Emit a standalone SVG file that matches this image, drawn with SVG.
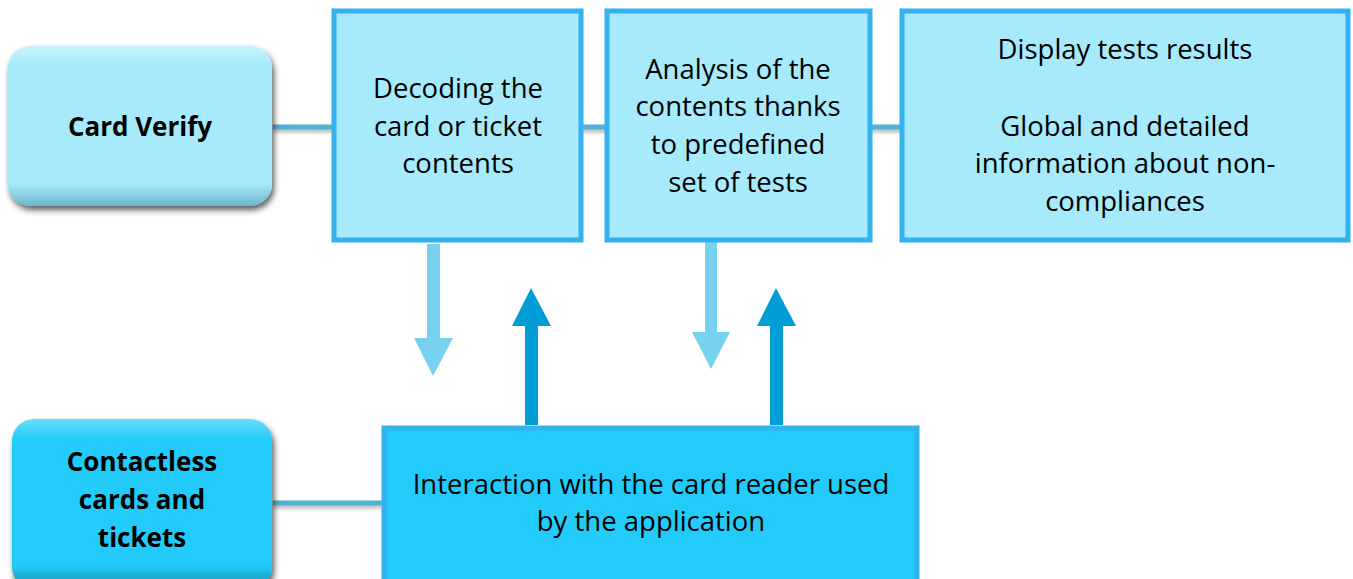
<svg xmlns="http://www.w3.org/2000/svg" width="1353" height="579" viewBox="0 0 1353 579">
<defs>
<style>
.box{fill:#a6eafc;stroke:#33b2ef;stroke-width:5}
.dbox{fill:#22cbfa;stroke:#33b2ef;stroke-width:5}
.t{font-family:"Open Sans",sans-serif;font-size:27.5px;fill:#000;text-anchor:middle}
.b{font-family:"Open Sans",sans-serif;font-size:26px;font-weight:bold;fill:#000;text-anchor:middle}
.conn{fill:#4eb2d2}
.cs{fill:#000;opacity:0.22}
.down{fill:#77d2f0}
.up{fill:#009dd6}
</style>
<filter id="sh" x="-10%" y="-10%" width="125%" height="130%">
<feGaussianBlur in="SourceAlpha" stdDeviation="3"/>
<feOffset dx="2" dy="4" result="o"/>
<feComponentTransfer><feFuncA type="linear" slope="0.65"/></feComponentTransfer>
<feMerge><feMergeNode/><feMergeNode in="SourceGraphic"/></feMerge>
</filter>
<filter id="blur" x="-20%" y="-200%" width="140%" height="500%">
<feGaussianBlur stdDeviation="1.5"/>
</filter>
<linearGradient id="g1" x1="0" y1="0" x2="0" y2="1">
<stop offset="0" stop-color="#c8f3fd"/>
<stop offset="0.12" stop-color="#a6eafc"/>
<stop offset="0.86" stop-color="#a6eafc"/>
<stop offset="1" stop-color="#6fb5c9"/>
</linearGradient>
<linearGradient id="g2" x1="0" y1="0" x2="0" y2="1">
<stop offset="0" stop-color="#6adcfb"/>
<stop offset="0.12" stop-color="#22cbfa"/>
<stop offset="0.86" stop-color="#22cbfa"/>
<stop offset="1" stop-color="#168fb0"/>
</linearGradient>
</defs>
<rect width="1353" height="579" fill="#fff"/>
<g id="connectors">
<rect class="cs" filter="url(#blur)" x="273" y="128" width="61" height="5"/>
<rect class="conn" x="273" y="124.5" width="61" height="5"/>
<rect class="cs" filter="url(#blur)" x="582" y="128" width="25" height="5"/>
<rect class="conn" x="582" y="124.5" width="25" height="5"/>
<rect class="cs" filter="url(#blur)" x="870" y="128" width="32" height="5"/>
<rect class="conn" x="870" y="124.5" width="32" height="5"/>
<rect class="cs" filter="url(#blur)" x="273" y="504" width="111" height="5"/>
<rect class="conn" x="273" y="500.5" width="111" height="5"/>
<polygon class="down" points="427,244 440,244 440,338 453,338 433,376 414,338 427,338"/>
<polygon class="up" points="525,425 538,425 538,326 551,326 531,288 512,326 525,326"/>
<polygon class="down" points="705,241 717,241 717,332 730,332 711,369 692,332 705,332"/>
<polygon class="up" points="770,425 783,425 783,326 796,326 776,288 757,326 770,326"/>
</g>
<g id="card-verify">
<rect x="8" y="46" width="264" height="160" rx="22" fill="url(#g1)" filter="url(#sh)"/>
<text class="b" x="140" y="136">Card Verify</text>
</g>
<g id="contactless">
<rect x="12" y="419" width="260" height="170" rx="22" fill="url(#g2)" filter="url(#sh)"/>
<text class="b" x="142" y="471">Contactless</text>
<text class="b" x="142" y="509">cards and</text>
<text class="b" x="142" y="547">tickets</text>
</g>
<g id="decoding">
<rect class="box" x="334" y="11" width="247" height="229"/>
<text class="t" x="458" y="98">Decoding the</text>
<text class="t" x="458" y="136">card or ticket</text>
<text class="t" x="458" y="173">contents</text>
</g>
<g id="analysis">
<rect class="box" x="607" y="11" width="263" height="229"/>
<text class="t" x="738" y="79">Analysis of the</text>
<text class="t" x="738" y="116">contents thanks</text>
<text class="t" x="738" y="154">to predefined</text>
<text class="t" x="738" y="192">set of tests</text>
</g>
<g id="display">
<rect class="box" x="902" y="11" width="446" height="229"/>
<text class="t" x="1125" y="59">Display tests results</text>
<text class="t" x="1125" y="136">Global and detailed</text>
<text class="t" x="1125" y="173">information about non-</text>
<text class="t" x="1125" y="211">compliances</text>
</g>
<g id="interaction">
<rect class="dbox" x="384" y="428" width="533" height="160"/>
<text class="t" x="651" y="494">Interaction with the card reader used</text>
<text class="t" x="651" y="531">by the application</text>
</g>
</svg>
